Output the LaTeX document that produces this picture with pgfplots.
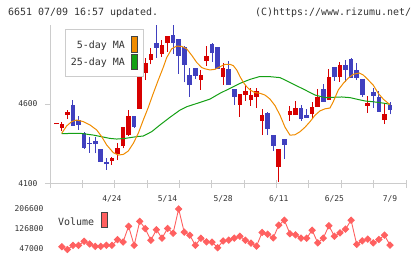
\documentclass[border=0pt]{standalone}
\usepackage{pgfplots}
\pgfplotsset{compat=1.18}
\usepackage{pgfplotstable}
\usepackage{fontspec}
\setmainfont{DejaVu Sans Mono}
\definecolor{cred}{HTML}{D70000}
\definecolor{cblue}{HTML}{4040BF}
\definecolor{ma5}{HTML}{F08C00}
\definecolor{ma25}{HTML}{14A014}
\definecolor{volc}{HTML}{FF6060}
\definecolor{axgray}{HTML}{CCCCCC}
\definecolor{txt}{HTML}{333333}
\definecolor{boxedge}{HTML}{444444}

% up candles (red): body lo/hi, wick wl/wh
\pgfplotstableread{
i lo hi wl wh
0 4474 4481 4474 4481
1 4452 4473 4431 4490
2 4532 4548 4506 4563
10 4244 4261 4219 4269
11 4288 4327 4250 4354
12 4340 4454 4323 4454
13 4407 4526 4400 4563
15 4569 4802 4569 4848
16 4796 4856 4750 4886
17 4877 4912 4848 4948
19 4911 4969 4896 5000
20 4982 5025 4927 5028
26 4750 4783 4688 4810
27 4871 4900 4840 4964
30 4771 4825 4719 4858
33 4594 4663 4521 4663
34 4656 4681 4619 4719
35 4625 4656 4588 4698
36 4646 4681 4577 4698
37 4496 4531 4406 4567
40 4208 4319 4115 4319
42 4531 4556 4496 4588
43 4531 4573 4531 4619
46 4538 4579 4515 4611
47 4583 4646 4583 4692
49 4625 4767 4625 4819
51 4767 4844 4740 4865
56 4588 4606 4546 4650
59 4500 4538 4475 4604
}\upc

% down candles (blue)
\pgfplotstableread{
i lo hi wl wh
3 4465 4594 4465 4623
4 4471 4500 4440 4523
5 4327 4421 4319 4427
6 4352 4358 4296 4392
7 4348 4371 4292 4396
8 4240 4319 4238 4319
9 4223 4240 4188 4261
14 4459 4527 4450 4527
18 4950 4980 4888 5094
21 4979 5031 4915 5094
22 4902 5006 4790 5006
23 4844 4958 4736 4962
24 4719 4781 4646 4827
25 4777 4827 4756 4827
28 4921 4975 4865 4981
29 4819 4954 4819 4958
31 4719 4819 4719 4869
32 4644 4694 4594 4694
38 4444 4542 4406 4552
39 4340 4406 4306 4406
41 4344 4381 4256 4381
44 4506 4573 4496 4594
45 4515 4531 4515 4567
48 4615 4692 4615 4723
50 4767 4829 4744 4829
52 4813 4844 4740 4875
53 4765 4884 4765 4890
54 4765 4813 4750 4859
55 4656 4756 4646 4756
57 4650 4677 4577 4702
58 4552 4646 4552 4683
60 4563 4594 4536 4610
}\downc

\pgfplotstableread{
i v
0.97 4417
1.87 4463
2.77 4490
3.67 4500
4.85 4490
6.06 4469
7.26 4438
8.16 4396
9.06 4344
10.25 4296
11.15 4281
12.05 4285
12.94 4306
13.84 4354
14.74 4417
15.64 4500
16.54 4579
17.44 4667
18.34 4750
19.24 4830
19.85 4890
20.75 4945
21.65 4962
22.55 4960
23.44 4945
24.34 4905
25.24 4860
26.14 4828
26.74 4820
27.64 4813
28.54 4817
29.43 4833
30.33 4848
31.23 4848
31.82 4840
32.43 4813
33.03 4771
33.62 4736
34.23 4708
34.83 4688
35.73 4671
36.63 4667
37.52 4656
38.42 4631
39.32 4590
40.22 4530
41.12 4455
42.02 4405
42.92 4408
43.82 4427
44.72 4455
45.62 4490
46.52 4530
47.41 4557
48.31 4570
49.21 4575
49.8 4615
50.7 4688
51.6 4729
52.5 4762
53.4 4786
54.48 4794
55.2 4781
56.1 4750
57.0 4717
57.9 4666
58.8 4630
59.7 4604
60 4596
}\mafive

\pgfplotstableread{
i v
0.97 4415
4.26 4417
6.65 4406
9.65 4385
10.86 4381
12.35 4385
14.46 4396
15.64 4400
17.15 4427
18.64 4469
20.44 4517
22.24 4562
23.44 4583
25.84 4610
27.64 4631
29.43 4667
31.23 4698
33.03 4729
34.83 4754
36.5 4771
38.42 4771
40.22 4765
41.12 4750
42.92 4719
44.72 4688
46.52 4656
48.31 4640
51.31 4644
52.8 4640
54.3 4628
55.5 4619
56.7 4615
57.9 4610
59.1 4604
60 4598
}\matwentyfive

\pgfplotstableread{
i v
1 56000
2 45000
3 61600
4 61600
5 77600
6 67000
7 57600
8 57600
9 61600
10 61600
11 84200
12 74900
13 137400
14 61600
15 157400
16 128100
17 81600
18 124000
19 90000
20 128800
21 110000
22 206600
23 114000
24 102000
25 62000
26 90000
27 75500
28 74200
29 52300
30 79000
31 82500
32 90200
33 98000
34 82200
35 70200
36 58500
37 113000
38 106000
39 91500
40 142000
41 162000
42 108000
43 103500
44 90200
45 90200
46 122000
47 71500
48 90200
49 140000
50 98000
51 111500
52 126000
53 162000
54 65500
55 79500
56 86200
57 71500
58 85000
59 102000
60 62300
}\voltab

\begin{document}
\begin{tikzpicture}[x=1bp,y=1bp]
\useasboundingbox (0,0) rectangle (420,259);

% ---------- price panel ----------
\begin{axis}[
  at={(50bp,75bp)}, anchor=south west,
  scale only axis, width=356bp, height=159bp,
  xmin=-1.13, xmax=62.87, ymin=4100, ymax=5094,
  axis lines*=left,
  axis line style={draw=axgray, line width=1bp},
  xtick={-1.13,4.69,10.5,16.32,22.14,27.96,33.78,39.59,45.41,51.23,57.05,62.87},
  xticklabels={,,,,,,,,,,,},
  xtick align=center, ytick align=outside,
  major tick length=8bp,
  tick style={draw=axgray, line width=1bp},
  ytick=\empty,
  extra y ticks={4100,4600},
  extra y tick labels={4100,4600},
  extra y tick style={major tick length=5bp, yticklabel style={xshift=-4bp}},
  extra x ticks={10,20,30,40,50,60},
  extra x tick labels={4/24,5/14,5/28,6/11,6/25,7/9},
  extra x tick style={major tick length=0pt, xticklabel style={yshift=-8bp}},
  tick label style={font=\fontsize{8}{8}\selectfont, text=txt},
  clip=true,
]
\addplot[draw=none, mark=none, forget plot,
  error bars/.cd, y dir=plus, y explicit, error mark=none,
  error bar style={draw=cred, line width=1bp}]
  table[x=i, y=wl, y error expr=\thisrow{wh}-\thisrow{wl}] {\upc};
\addplot[draw=none, mark=none, forget plot,
  error bars/.cd, y dir=plus, y explicit, error mark=none,
  error bar style={draw=cred, line width=4.6bp}]
  table[x=i, y=lo, y error expr=\thisrow{hi}-\thisrow{lo}] {\upc};
\addplot[draw=none, mark=none, forget plot,
  error bars/.cd, y dir=plus, y explicit, error mark=none,
  error bar style={draw=cblue, line width=1bp}]
  table[x=i, y=wl, y error expr=\thisrow{wh}-\thisrow{wl}] {\downc};
\addplot[draw=none, mark=none, forget plot,
  error bars/.cd, y dir=plus, y explicit, error mark=none,
  error bar style={draw=cblue, line width=4.6bp}]
  table[x=i, y=lo, y error expr=\thisrow{hi}-\thisrow{lo}] {\downc};
\addplot[ma25, line width=1bp, mark=none] table[x=i, y=v] {\matwentyfive};
\addplot[ma5, line width=1bp, mark=none] table[x=i, y=v] {\mafive};
\end{axis}

% ---------- volume panel ----------
\begin{axis}[
  at={(50bp,5bp)}, anchor=south west,
  scale only axis, width=356bp, height=50bp,
  xmin=-1.13, xmax=62.87, ymin=27050, ymax=226550,
  axis line style={draw=none},
  scaled y ticks=false,
  xtick=\empty,
  ytick={47000,126800,206600},
  yticklabels={47000,126800,206600},
  major tick length=0pt,
  tick style={draw=none},
  tick label style={font=\fontsize{8}{8}\selectfont, text=txt},
  yticklabel style={xshift=-3bp},
  clip=false,
]
\addplot[volc, line width=0.9bp, mark=square*, mark size=2.2bp,
  mark options={rotate=45, fill=volc, draw=volc, solid}] table[x=i, y=v] {\voltab};
\end{axis}

% ---------- legends and header ----------
\draw[axgray, fill=white, line width=1bp] (65,182) rectangle (143,229);
\node[anchor=east, inner sep=0pt, font=\fontsize{10}{10}\selectfont, text=txt] at (125,213) {5-day MA};
\node[anchor=east, inner sep=0pt, font=\fontsize{10}{10}\selectfont, text=txt] at (125,196.3) {25-day MA};
\draw[boxedge, fill=ma5, line width=1bp] (131.5,206) rectangle (137,222);
\draw[boxedge, fill=ma25, line width=1bp] (131.5,189.5) rectangle (137,204.5);

\node[anchor=west, inner sep=0pt, font=\fontsize{10}{10}\selectfont, text=txt] at (58,37) {Volume};
\draw[boxedge, fill=volc, line width=1bp] (101.5,31) rectangle (107.5,46);

\node[anchor=west, inner sep=0pt, font=\fontsize{10}{10}\selectfont, text=txt] at (8,246.3) {6651 07/09 16:57 updated.};
\node[anchor=west, inner sep=0pt, font=\fontsize{10}{10}\selectfont, text=txt] at (255,246.3) {(C)https://www.rizumu.net/};
\end{tikzpicture}
\end{document}
